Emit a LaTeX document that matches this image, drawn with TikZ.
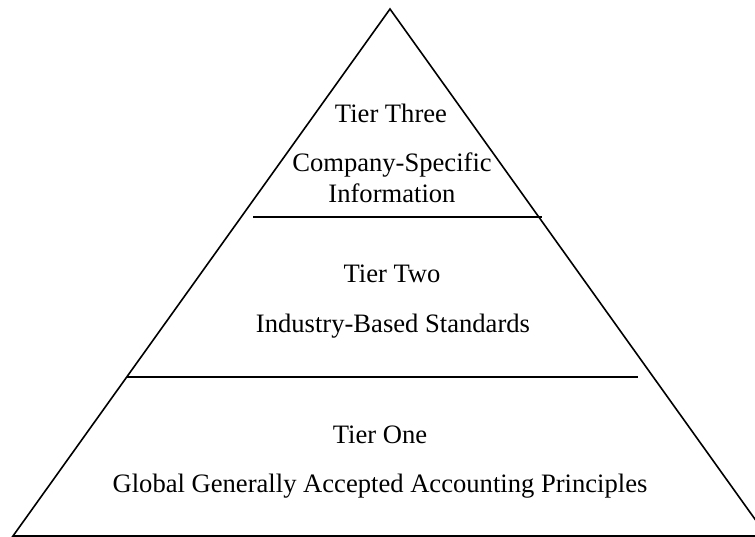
\documentclass[tikz,border=0pt]{standalone}
\usepackage{fontspec}
\setmainfont{Liberation Serif}
\usetikzlibrary{positioning}
\def\tierSize{26.6}
\def\baseY{536}

\begin{document}
\begin{tikzpicture}[
    x=1pt, y=-1pt,
    line width=1.6pt,
    every node/.style={anchor=base, inner sep=0pt, font=\fontsize{\tierSize}{31}\selectfont}
]
\useasboundingbox (0,0) rectangle (755,537);
\clip (0,0) rectangle (755,537);

% outline of the pyramid
\coordinate (top) at (390,9);
\coordinate (left) at (13,\baseY);
\coordinate (right) at (767,\baseY);
\draw (left) -- (top) -- (right) -- cycle;

% tier boundaries
\draw (253,217) -- (542,217);
\draw (127,377) -- (638,377);

% tier three
\node (t3) at (391,123) {Tier Three};
\node (t3a) at (392,172) {Company-Specific};
\node (t3b) at (392,203) {Information};

% tier two
\node (t2) at (392,283) {Tier Two};
\node (t2a) at (393,332) {Industry-Based Standards};

% tier one
\node (t1) at (380,443) {Tier One};
\node (t1a) at (380,492) {Global Generally Accepted Accounting Principles};
\end{tikzpicture}
\end{document}
